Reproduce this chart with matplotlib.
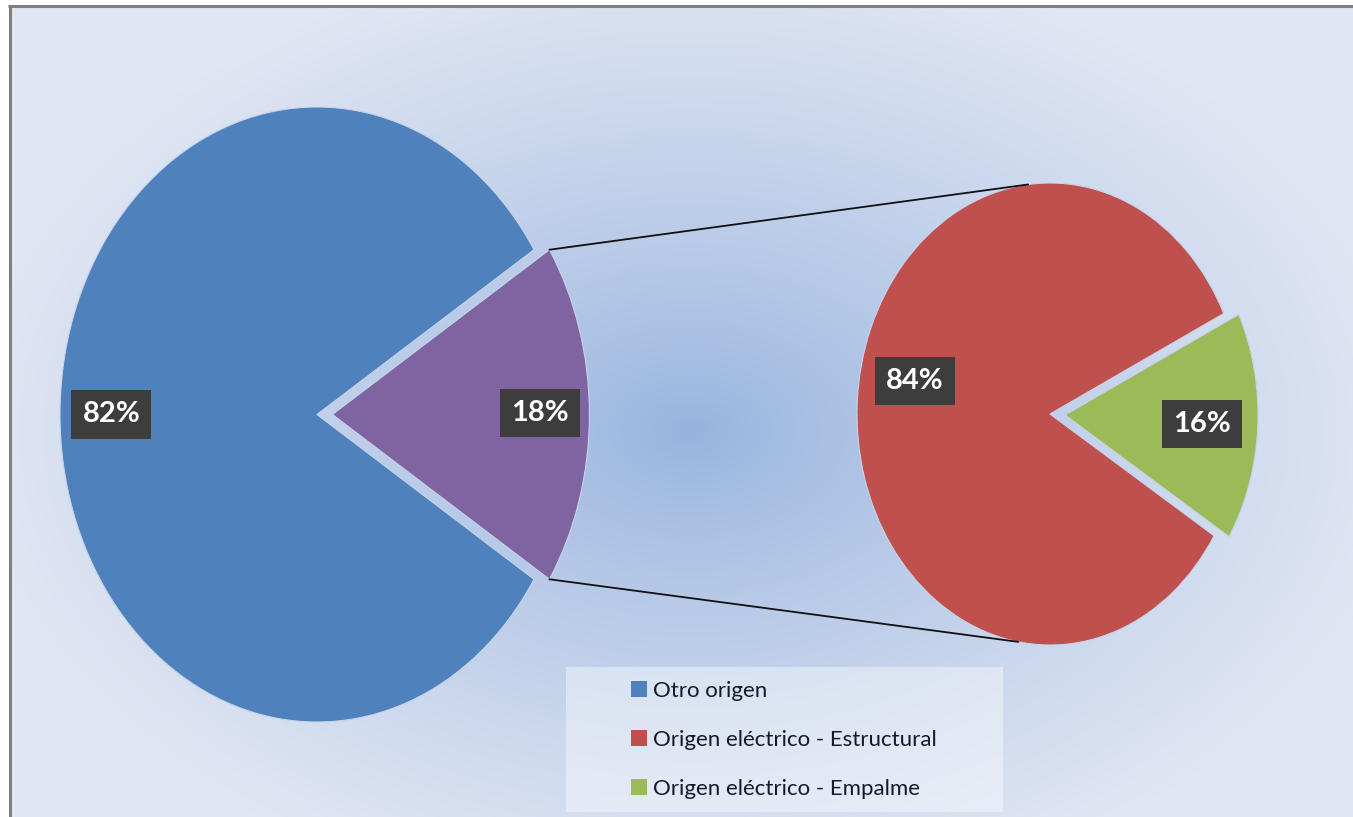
import numpy as np
import matplotlib
matplotlib.use("Agg")
import matplotlib.pyplot as plt
from matplotlib.patches import Rectangle, Patch, ConnectionPatch

W, H = 1353, 817

# ---- data ----
legend_labels = ["Otro origen", "Origen eléctrico - Estructural", "Origen eléctrico - Empalme"]
main_values = [82, 18]          # Otro origen, Origen eléctrico (total)
sub_values = [84, 16]           # Estructural, Empalme
main_colors = ["#4f81bd", "#8064a2"]
sub_colors = ["#c0504d", "#9bbb59"]

fig = plt.figure(figsize=(W / 100, H / 100), dpi=100)
fig.patch.set_facecolor("white")

# ---- background axes in pixel coordinates ----
bg = fig.add_axes([0, 0, 1, 1])
bg.axis("off")
x0, y0 = 11, 7
yy, xx = np.mgrid[y0:H, x0:W]
t = np.sqrt(((xx - 690) / 720.0) ** 2 + ((yy - 430) / 480.0) ** 2)
t = np.clip(t, 0, 1) ** 0.8
c0 = np.array([150, 179, 222]) / 255.0
c1 = np.array([224, 230, 243]) / 255.0
img = c0 * (1 - t[..., None]) + c1 * t[..., None]
bg.imshow(img, extent=(x0, W, H, y0), origin="upper", aspect="auto", interpolation="bilinear")
bg.plot([9.5, 9.5], [5, H], color="#7f7f7f", lw=2.2, solid_capstyle="butt")
bg.plot([8, W], [6, 6], color="#7f7f7f", lw=2.2, solid_capstyle="butt")
bg.set_xlim(0, W)
bg.set_ylim(H, 0)

# legend backdrop
bg.add_patch(Rectangle((566, 667), 437, 145, facecolor="white", alpha=0.4, edgecolor="none"))


def pie_axes(cx, cy, rx, ry, lim=1.25):
    ax = fig.add_axes([(cx - lim * rx) / W, (H - cy - lim * ry) / H, 2 * lim * rx / W, 2 * lim * ry / H])
    return ax, lim


edge = dict(edgecolor="#c6d4ec", linewidth=0.8)
label_font = dict(family=["Lato", "DejaVu Sans"], fontsize=21, fontweight="bold", color="white",
                  ha="center", va="center",
                  bbox=dict(boxstyle="square,pad=0.38", facecolor="#3d3d3d", edgecolor="none"))

# ---- main pie ----
axL, lim = pie_axes(317, 414.5, 257, 307.5)
startL = main_values[1] / 100 * 360 / 2
explL = 0.06
axL.pie(main_values, colors=main_colors, startangle=startL, explode=[0, explL],
        wedgeprops=edge, frame=False)
axL.set_aspect("auto")
axL.set_xlim(-lim, lim)
axL.set_ylim(-lim, lim)
axL.axis("off")
axL.text(-0.80, 0.0, f"{main_values[0]}%", **label_font)
axL.text(0.868, 0.005, f"{main_values[1]}%", **label_font)

# ---- secondary pie ----
axR, lim = pie_axes(1050, 414, 193, 231)
green_center = -3.0
startR = sub_values[1] / 100 * 360 / 2 + green_center
axR.pie(sub_values, colors=sub_colors, startangle=startR, explode=[0, 0.078],
        wedgeprops=edge, frame=False)
axR.set_aspect("auto")
axR.set_xlim(-lim, lim)
axR.set_ylim(-lim, lim)
axR.axis("off")
axR.text(-0.70, 0.143, f"{sub_values[0]}%", **label_font)
axR.text(0.788, -0.043, f"{sub_values[1]}%", **label_font)

# ---- connector lines ----
a = np.deg2rad(startL)
for sgn, ang in [(1, 96.5), (-1, -99.5)]:
    b = np.deg2rad(ang)
    con = ConnectionPatch(xyA=(explL + np.cos(a), sgn * np.sin(a)), coordsA=axL.transData,
                          xyB=(np.cos(b), np.sin(b)), coordsB=axR.transData,
                          color="#101010", lw=1.3)
    fig.add_artist(con)

# ---- legend ----
handles = [Patch(facecolor=c, edgecolor="none") for c in [main_colors[0]] + sub_colors]
leg = fig.legend(handles, legend_labels, loc="upper left",
                 bbox_to_anchor=(631 / W, 1 - 681 / H), frameon=False,
                 prop=dict(family=["Lato", "DejaVu Sans"], size=16),
                 handlelength=0.7, handleheight=0.75, handletextpad=0.3,
                 labelspacing=1.3, borderpad=0, borderaxespad=0)
for txt in leg.get_texts():
    txt.set_color("#151a2b")

fig.savefig("out.png", dpi=100, facecolor=fig.get_facecolor())
